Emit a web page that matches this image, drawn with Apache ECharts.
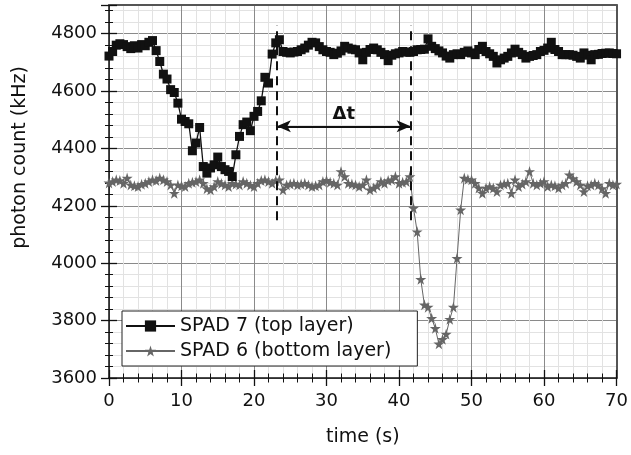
<!DOCTYPE html>
<html><head><meta charset="utf-8">
<script src="https://cdn.jsdelivr.net/npm/echarts@6/dist/echarts.min.js"></script>
<style>html,body{margin:0;padding:0;background:#fff}#c{width:631px;height:455px}</style>
</head><body><div id="c"></div>
<script>
// ---- data ----
const times = [
  0,0.5,1,1.5,2,2.5,3,3.5,4,4.5,
  5,5.5,6,6.5,7,7.5,8,8.5,9,9.5,
  10,10.5,11,11.5,12,12.5,13,13.5,14,14.5,
  15,15.5,16,16.5,17,17.5,18,18.5,19,19.5,
  20,20.5,21,21.5,22,22.5,23,23.5,24,24.5,
  25,25.5,26,26.5,27,27.5,28,28.5,29,29.5,
  30,30.5,31,31.5,32,32.5,33,33.5,34,34.5,
  35,35.5,36,36.5,37,37.5,38,38.5,39,39.5,
  40,40.5,41,41.5,42,42.5,43,43.5,44,44.5,
  45,45.5,46,46.5,47,47.5,48,48.5,49,49.5,
  50,50.5,51,51.5,52,52.5,53,53.5,54,54.5,
  55,55.5,56,56.5,57,57.5,58,58.5,59,59.5,
  60,60.5,61,61.5,62,62.5,63,63.5,64,64.5,
  65,65.5,66,66.5,67,67.5,68,68.5,69,69.5,
  70
];
const spad7 = [
  4722,4738,4760,4765,4762,4755,4748,4758,4750,4762,
  4758,4770,4776,4741,4703,4659,4642,4605,4595,4558,
  4502,4494,4486,4392,4419,4473,4337,4314,4332,4343,
  4370,4337,4326,4320,4302,4378,4442,4483,4492,4462,
  4512,4529,4566,4648,4628,4729,4768,4779,4738,4735,
  4733,4736,4738,4744,4750,4760,4770,4768,4755,4744,
  4738,4735,4727,4732,4740,4756,4750,4746,4744,4733,
  4709,4735,4745,4750,4744,4735,4727,4706,4725,4730,
  4733,4738,4736,4735,4738,4744,4745,4746,4782,4756,
  4748,4740,4733,4722,4715,4727,4730,4727,4735,4740,
  4733,4727,4745,4756,4738,4730,4721,4698,4709,4715,
  4721,4733,4746,4735,4727,4715,4721,4724,4727,4738,
  4742,4750,4770,4745,4738,4727,4727,4727,4725,4721,
  4715,4733,4725,4709,4727,4728,4731,4732,4733,4731,
  4730
];
const spad6 = [
  4280,4285,4291,4288,4279,4297,4273,4270,4267,4275,
  4279,4285,4291,4288,4297,4291,4285,4273,4244,4273,
  4270,4267,4279,4282,4285,4291,4279,4260,4256,4267,
  4285,4278,4273,4267,4279,4276,4273,4285,4279,4272,
  4267,4279,4288,4291,4285,4279,4288,4291,4256,4273,
  4276,4279,4273,4276,4279,4273,4267,4270,4273,4285,
  4289,4282,4279,4273,4320,4302,4279,4276,4273,4267,
  4273,4291,4256,4262,4270,4285,4279,4288,4291,4302,
  4279,4282,4285,4302,4192,4110,3944,3855,3847,3808,
  3773,3719,3735,3753,3805,3847,4017,4186,4297,4293,
  4291,4279,4262,4244,4262,4267,4262,4250,4273,4276,
  4279,4244,4291,4267,4276,4285,4320,4279,4273,4279,
  4285,4267,4273,4270,4262,4273,4279,4308,4295,4285,
  4273,4250,4270,4273,4279,4273,4260,4244,4279,4273,
  4276
];
const seriesNames = ['SPAD 7 (top layer)', 'SPAD 6 (bottom layer)'];
const xRange = [0, 70], xMajor = 10, xMinor = 2;
const yRange = [3600, 4900], yMajor = 200, yMinor = 40;
const markerTimes = [23.15, 41.6];      // dashed vertical lines (s)
const markerSpan = [4150, 4830];        // their vertical extent (kHz)
const arrowLevel = 4477;                // Δt arrow height (kHz)
const arrowLabel = 'Δt';

// ---- chart ----
const FONT = 'DejaVu Sans';
const starPath = 'path://M50,0 L61,35 L98,35 L68,57 L79,91 L50,70 L21,91 L32,57 L2,35 L39,35 Z';
const pairs = arr => times.map((t, i) => [t, arr[i]]);

function hiddenAxis(extra) {
  return Object.assign({
    type: 'value', axisLine: { show: false, onZero: false },
    axisLabel: { show: false }, splitLine: { show: false }, axisTick: { show: false }
  }, extra);
}
function tickAxis(pos, range, step, len, inside, width, split) {
  return hiddenAxis({
    position: pos, min: range[0], max: range[1], interval: step,
    axisTick: { show: true, inside: inside, length: len, lineStyle: { color: '#111', width: width } },
    splitLine: split ? { show: true, lineStyle: { color: split, width: 1 } } : { show: false }
  });
}

const chart = echarts.init(document.getElementById('c'), null, { renderer: 'canvas' });
chart.setOption({
  animation: false,
  backgroundColor: '#fff',
  grid: { left: 109, right: 10, top: 5, bottom: 77, containLabel: false },
  xAxis: [
    tickAxis('bottom', xRange, xMinor, 4.5, false, 1, '#e2e2e2'),
    tickAxis('bottom', xRange, xMinor, 4.5, true, 1, null),
    tickAxis('bottom', xRange, xMajor, 8, true, 1.3, '#8a8a8a'),
    hiddenAxis({ position: 'bottom', min: xRange[0], max: xRange[1], interval: xMajor,
      axisLine: { show: true, onZero: false, lineStyle: { color: '#111', width: 1.5 } },
      axisTick: { show: true, length: 8, lineStyle: { color: '#111', width: 1.3 } },
      axisLabel: { show: true, margin: 14, fontFamily: FONT, fontSize: 18, color: '#111' },
      name: 'time (s)', nameLocation: 'middle', nameGap: 50,
      nameTextStyle: { fontFamily: FONT, fontSize: 19, color: '#111' } }),
    hiddenAxis({ position: 'top', min: xRange[0], max: xRange[1],
      axisLine: { show: true, onZero: false, lineStyle: { color: '#555', width: 2 } } })
  ],
  yAxis: [
    tickAxis('left', yRange, yMinor, 4, false, 1, '#e2e2e2'),
    tickAxis('left', yRange, yMinor, 4, true, 1, null),
    tickAxis('left', yRange, yMajor, 8, true, 1.3, '#8a8a8a'),
    hiddenAxis({ position: 'left', min: yRange[0], max: yRange[1], interval: yMajor,
      axisLine: { show: true, onZero: false, lineStyle: { color: '#111', width: 1.5 } },
      axisTick: { show: true, length: 8, lineStyle: { color: '#111', width: 1.3 } },
      axisLabel: { show: true, margin: 12, fontFamily: FONT, fontSize: 18, color: '#111',
        formatter: v => (v % yMajor === 0 ? String(v) : '') },
      name: 'photon count (kHz)', nameLocation: 'middle', nameGap: 79,
      nameTextStyle: { fontFamily: FONT, fontSize: 19, color: '#111', padding: [0, 0, 0, 68] } }),
    hiddenAxis({ position: 'right', min: yRange[0], max: yRange[1],
      axisLine: { show: true, onZero: false, lineStyle: { color: '#555', width: 2 } } })
  ],
  legend: {
    data: seriesNames, orient: 'vertical', left: 122, top: 311,
    backgroundColor: '#fff', borderColor: '#222', borderWidth: 1, borderRadius: 0,
    padding: [5, 26, 5, 3], itemGap: 5, itemWidth: 49, itemHeight: 14,
    selectedMode: false,
    textStyle: { fontFamily: FONT, fontSize: 19, color: '#111', lineHeight: 20 }
  },
  series: [
    {
      name: seriesNames[1], type: 'line', xAxisIndex: 3, yAxisIndex: 3,
      data: pairs(spad6), symbol: starPath, symbolSize: 11, showAllSymbol: true,
      lineStyle: { color: '#666', width: 1 }, itemStyle: { color: '#666' },
      markLine: {
        silent: true, animation: false, symbol: ['arrow', 'arrow'], symbolSize: [9, 14],
        lineStyle: { color: '#111', type: 'solid', width: 2 },
        label: { show: true, position: 'middle', formatter: arrowLabel, fontFamily: FONT,
          fontSize: 18, fontWeight: 'bold', color: '#111', distance: 3 },
        data: [[{ coord: [markerTimes[0], arrowLevel] }, { coord: [markerTimes[1], arrowLevel] }]]
      }
    },
    {
      name: seriesNames[0], type: 'line', xAxisIndex: 3, yAxisIndex: 3,
      data: pairs(spad7), symbol: 'rect', symbolSize: 9, showAllSymbol: true,
      lineStyle: { color: '#111', width: 1.3 }, itemStyle: { color: '#111' },
      markLine: {
        silent: true, animation: false, symbol: 'none',
        lineStyle: { color: '#111', type: [9, 6], width: 2 },
        label: { show: false },
        data: [
          [{ coord: [markerTimes[0], markerSpan[0]] }, { coord: [markerTimes[0], markerSpan[1]] }],
          [{ coord: [markerTimes[1], markerSpan[0]] }, { coord: [markerTimes[1], markerSpan[1]] }]
        ]
      }
    }
  ]
});
</script></body></html>
